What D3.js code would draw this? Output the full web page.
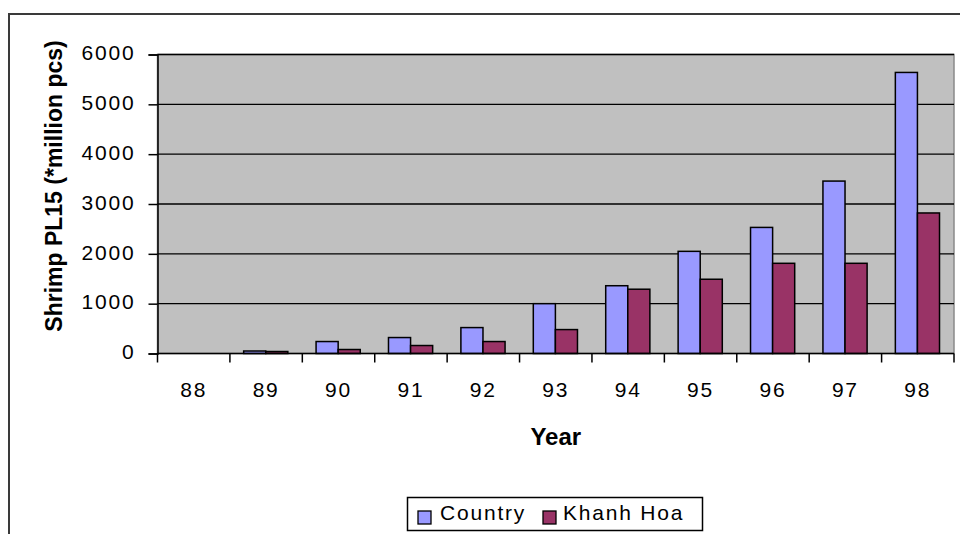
<!DOCTYPE html>
<html>
<head>
<meta charset="utf-8">
<script src="https://cdn.jsdelivr.net/npm/d3@7"></script>
<style>
  html, body { margin: 0; padding: 0; background: #ffffff; }
  svg { display: block; }
  text { font-family: "Liberation Sans", Arial, sans-serif; fill: #000; }
</style>
</head>
<body>
<svg id="chart" width="960" height="534"></svg>
<script>
// Shrimp PL15 production, million pieces
const years = ["88", "89", "90", "91", "92", "93", "94", "95", "96", "97", "98"];
const seriesNames = ["Country", "Khanh Hoa"];
const countryValues = [0, 50, 240, 320, 520, 1000, 1360, 2050, 2530, 3460, 5640];
const khanhHoaValues = [0, 40, 80, 160, 240, 480, 1290, 1490, 1810, 1810, 2820];
const yTicks = [0, 1000, 2000, 3000, 4000, 5000, 6000];
const colors = ["#9999FF", "#993366"];

const rows = years.map((y, i) => ({ year: y, values: [countryValues[i], khanhHoaValues[i]] }));

const svg = d3.select("#chart");
const plot = { left: 157.5, right: 954, top: 54.5, bottom: 353.5 };

// Outer chart frame (extends past the right and bottom edges)
svg.append("path")
  .attr("d", `M9,540 L9,14 L970,14`)
  .attr("fill", "none").attr("stroke", "#3a3a3a").attr("stroke-width", 2);

const x0 = d3.scaleBand().domain(years).range([plot.left, plot.right]).paddingInner(0).paddingOuter(0);
const x1 = d3.scaleBand().domain(seriesNames)
  .range([x0.bandwidth() * 0.19, x0.bandwidth() * 0.8]).padding(0);
const y = d3.scaleLinear().domain([0, 6000]).range([plot.bottom, plot.top]);

// Plot area
svg.append("rect")
  .attr("x", plot.left).attr("y", plot.top)
  .attr("width", plot.right - plot.left).attr("height", plot.bottom - plot.top)
  .attr("fill", "#C0C0C0").attr("stroke", "#8a8a8a").attr("stroke-width", 1.5);

// Gridlines
svg.append("g").selectAll("line").data(yTicks.filter(d => d > 0)).join("line")
  .attr("x1", plot.left).attr("x2", plot.right)
  .attr("y1", d => y(d)).attr("y2", d => y(d))
  .attr("stroke", "#000").attr("stroke-width", 1.4);

// Bars
const groups = svg.append("g").selectAll("g").data(rows).join("g")
  .attr("transform", d => `translate(${x0(d.year)},0)`);
groups.selectAll("rect").data(d => d.values.map((v, i) => ({ key: seriesNames[i], v, i })))
  .join("rect")
  .attr("x", d => x1(d.key))
  .attr("width", x1.bandwidth())
  .attr("y", d => y(d.v))
  .attr("height", d => plot.bottom - y(d.v))
  .attr("fill", d => colors[d.i])
  .attr("stroke", "#000").attr("stroke-width", 1.5);

// Y axis
const yAxis = svg.append("g").attr("transform", `translate(${plot.left},0)`)
  .call(d3.axisLeft(y).tickValues(yTicks).tickSize(9).tickPadding(13).tickFormat(d3.format("d")));
yAxis.select(".domain").attr("stroke", "#000").attr("stroke-width", 1.5);
yAxis.selectAll(".tick line").attr("stroke", "#000").attr("stroke-width", 1.5);
yAxis.selectAll(".tick text")
  .attr("font-family", "Liberation Sans, Arial, sans-serif")
  .attr("font-size", 21).attr("letter-spacing", 1.8)
  .attr("dy", "0.25em").attr("fill", "#000");

// X axis: ticks at category boundaries, labels centred in each band
const xAxisG = svg.append("g").attr("transform", `translate(0,${plot.bottom})`);
xAxisG.append("line").attr("x1", plot.left).attr("x2", plot.right)
  .attr("stroke", "#000").attr("stroke-width", 1.5);
const boundaries = years.map(d => x0(d)).concat([x0(years[years.length - 1]) + x0.bandwidth()]);
xAxisG.selectAll("line.tk").data(boundaries).join("line").attr("class", "tk")
  .attr("x1", d => d).attr("x2", d => d).attr("y1", 0).attr("y2", 9)
  .attr("stroke", "#000").attr("stroke-width", 1.5);
xAxisG.selectAll("text").data(years).join("text")
  .attr("x", d => x0(d) + x0.bandwidth() / 2)
  .attr("y", 43)
  .attr("text-anchor", "middle")
  .attr("font-size", 21).attr("letter-spacing", 1.8)
  .text(d => d);

// Axis titles
svg.append("text")
  .attr("x", (plot.left + plot.right) / 2).attr("y", 445)
  .attr("text-anchor", "middle").attr("font-size", 24).attr("font-weight", "bold")
  .text("Year");
svg.append("text")
  .attr("transform", `translate(62,${(plot.top + plot.bottom) / 2 - 18}) rotate(-90)`)
  .attr("text-anchor", "middle").attr("font-size", 23).attr("font-weight", "bold")
  .text("Shrimp PL15 (*million pcs)");

// Legend
const legend = svg.append("g");
legend.append("rect").attr("x", 407.5).attr("y", 497.5).attr("width", 295).attr("height", 33)
  .attr("fill", "#fff").attr("stroke", "#000").attr("stroke-width", 1.5);
const legendItems = [{ name: seriesNames[0], sx: 418, tx: 440 }, { name: seriesNames[1], sx: 543, tx: 563 }];
legendItems.forEach((it, i) => {
  legend.append("rect").attr("x", it.sx).attr("y", 511).attr("width", 13).attr("height", 13)
    .attr("fill", colors[i]).attr("stroke", "#000").attr("stroke-width", 1.3);
  legend.append("text").attr("x", it.tx).attr("y", 520)
    .attr("font-size", 21).attr("letter-spacing", 1.8).text(it.name);
});
</script>
</body>
</html>
